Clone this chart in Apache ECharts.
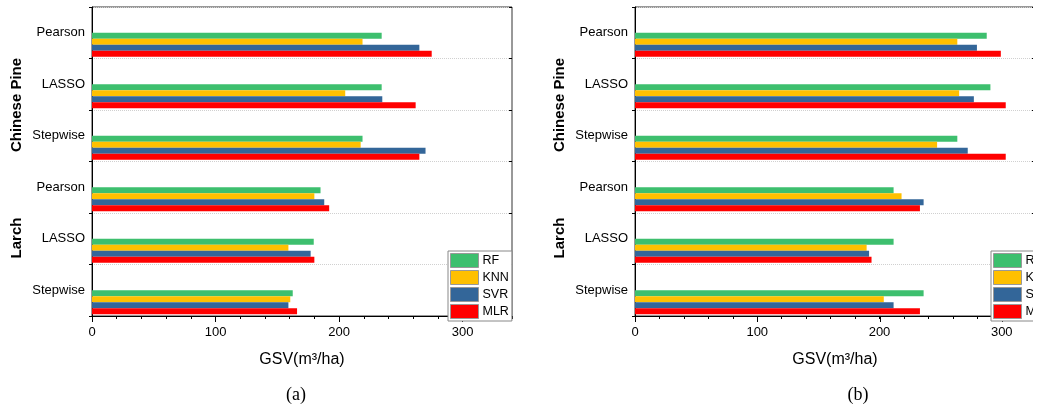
<!DOCTYPE html>
<html>
<head>
<meta charset="utf-8">
<script src="https://cdn.jsdelivr.net/npm/echarts@6/dist/echarts.min.js"></script>
<style>
  html, body { margin: 0; padding: 0; background: #fff; }
  #chart { width: 1038px; height: 408px; }
</style>
</head>
<body>
<div id="chart"></div>
<script>
// categories, top to bottom
const categories = ['Pearson', 'LASSO', 'Stepwise', 'Pearson', 'LASSO', 'Stepwise']
const models = ['RF', 'KNN', 'SVR', 'MLR']
const colors = ['#3dbf6e', '#ffc000', '#336699', '#ff0000']
const groups = ['Chinese Pine', 'Larch']
const xTicks = [0, 100, 200, 300]

// (a)
const rfA = [234.5, 234.5, 219, 185, 179.5, 162.5]
const knnA = [219, 205, 217.5, 180, 159, 160.5]
const svrA = [265, 235, 270, 188, 177, 159]
const mlrA = [275, 262, 265, 192, 180, 166]
// (b)
const rfB = [287, 290, 263, 211, 211, 235.5]
const knnB = [263, 264.5, 246.5, 217.5, 189, 203]
const svrB = [279, 276.5, 271.5, 235.5, 191, 211]
const mlrB = [298.5, 302.5, 302.5, 232.5, 193, 232.5]

// right panel is cut by the picture's edge, so its axis stops early
const panels = [
  { left: 92, width: 420, xmax: 340, data: [rfA, knnA, svrA, mlrA], legendLeft: 448, sub: '(a)', subX: 296, groupX: 17 },
  { left: 635, width: 401, xmax: 327.2, data: [rfB, knnB, svrB, mlrB], legendLeft: 991, sub: '(b)', subX: 858, groupX: 560 }
]
const TOP = 7, H = 309, SHIFT = 12
const FONT = 'Liberation Sans, Arial, sans-serif'

const grid = [], xAxis = [], yAxis = [], series = [], legend = [], graphic = []

panels.forEach((p, i) => {
  const g = i * 3
  // frame grid
  grid.push({ left: p.left, width: p.width, top: TOP, height: H, show: true, borderColor: '#333', borderWidth: 1 })
  // bars grid, shifted down so bars sit in the lower half of each band
  grid.push({ left: p.left, width: p.width, top: TOP + SHIFT, height: H })
  // major ticks grid (0..300)
  grid.push({ left: p.left, width: p.width * 300 / p.xmax, top: TOP, height: H })

  xAxis.push({
    type: 'value', gridIndex: g, min: 0, max: p.xmax, interval: 20,
    name: 'GSV(m³/ha)', nameLocation: 'middle', nameGap: 36,
    nameTextStyle: { fontSize: 16, color: '#000', fontFamily: FONT },
    axisLine: { show: true, lineStyle: { color: '#000', width: 1 } },
    axisTick: { show: true, length: 3, lineStyle: { color: '#000' } },
    axisLabel: {
      margin: 10, fontSize: 13, color: '#000', fontFamily: FONT,
      formatter: v => (xTicks.indexOf(v) >= 0 ? String(v) : '')
    },
    splitLine: { show: false }
  })
  xAxis.push({ type: 'value', gridIndex: g + 1, min: 0, max: p.xmax, show: false })
  xAxis.push({
    type: 'value', gridIndex: g + 2, min: 0, max: 300, interval: 100,
    axisLine: { show: false },
    axisTick: { show: true, length: 6, lineStyle: { color: '#000' } },
    axisLabel: { show: false },
    splitLine: { show: false }
  })

  yAxis.push({
    type: 'category', gridIndex: g, inverse: true, data: categories,
    axisLine: { show: true, lineStyle: { color: '#000', width: 1 } },
    axisTick: { show: true, length: 3, lineStyle: { color: '#000' } },
    axisLabel: { margin: 7, fontSize: 13, color: '#000', fontFamily: FONT },
    splitLine: { show: true, lineStyle: { color: '#d0d0d0', type: 'dotted', width: 1 } }
  })
  yAxis.push({ type: 'category', gridIndex: g + 1, inverse: true, data: categories, show: false })
  yAxis.push({ type: 'value', gridIndex: g + 2, show: false })

  models.forEach((m, k) => {
    series.push({
      name: m, type: 'bar', xAxisIndex: g + 1, yAxisIndex: g + 1,
      data: p.data[k], barWidth: 6, barGap: '0%',
      itemStyle: { color: colors[k] },
      animation: false
    })
  })

  legend.push({
    data: models, orient: 'vertical', left: p.legendLeft, top: 251,
    icon: 'rect', itemWidth: 28, itemHeight: 14, itemGap: 2,
    padding: [2, 3, 2, 2], borderColor: '#888', borderWidth: 1, backgroundColor: '#fff',
    itemStyle: { borderColor: '#999', borderWidth: 1 },
    textStyle: { fontSize: 12.5, color: '#000', fontFamily: FONT, padding: [0, 0, 0, -1] },
    selectedMode: false
  })

  graphic.push({
    type: 'text', x: p.groupX, y: 105, rotation: Math.PI / 2,
    style: { text: groups[0], font: 'bold 15px ' + FONT, fill: '#000', textAlign: 'center', textVerticalAlign: 'middle' }
  })
  graphic.push({
    type: 'text', x: p.groupX, y: 238, rotation: Math.PI / 2,
    style: { text: groups[1], font: 'bold 15px ' + FONT, fill: '#000', textAlign: 'center', textVerticalAlign: 'middle' }
  })
  graphic.push({
    type: 'text', x: p.subX, y: 395,
    style: { text: p.sub, font: '18px Liberation Serif, Times New Roman, serif', fill: '#000', textAlign: 'center', textVerticalAlign: 'middle' }
  })
})

// the right panel is cut at the picture's edge
graphic.push({ type: 'rect', z: 100, shape: { x: 1033, y: 0, width: 10, height: 408 }, style: { fill: '#fff' } })

// inner half of the category ticks (ticks cross the axis)
panels.forEach((p, i) => {
  yAxis.push({
    type: 'category', gridIndex: i * 3, inverse: true, data: categories,
    axisLine: { show: false },
    axisTick: { show: true, inside: true, length: 3, lineStyle: { color: '#000' } },
    axisLabel: { show: false },
    splitLine: { show: false }
  })
})

const myChart = echarts.init(document.getElementById('chart'))
myChart.setOption({
  animation: false,
  backgroundColor: '#fff',
  grid, xAxis, yAxis, series, legend, graphic
})
</script>
</body>
</html>
